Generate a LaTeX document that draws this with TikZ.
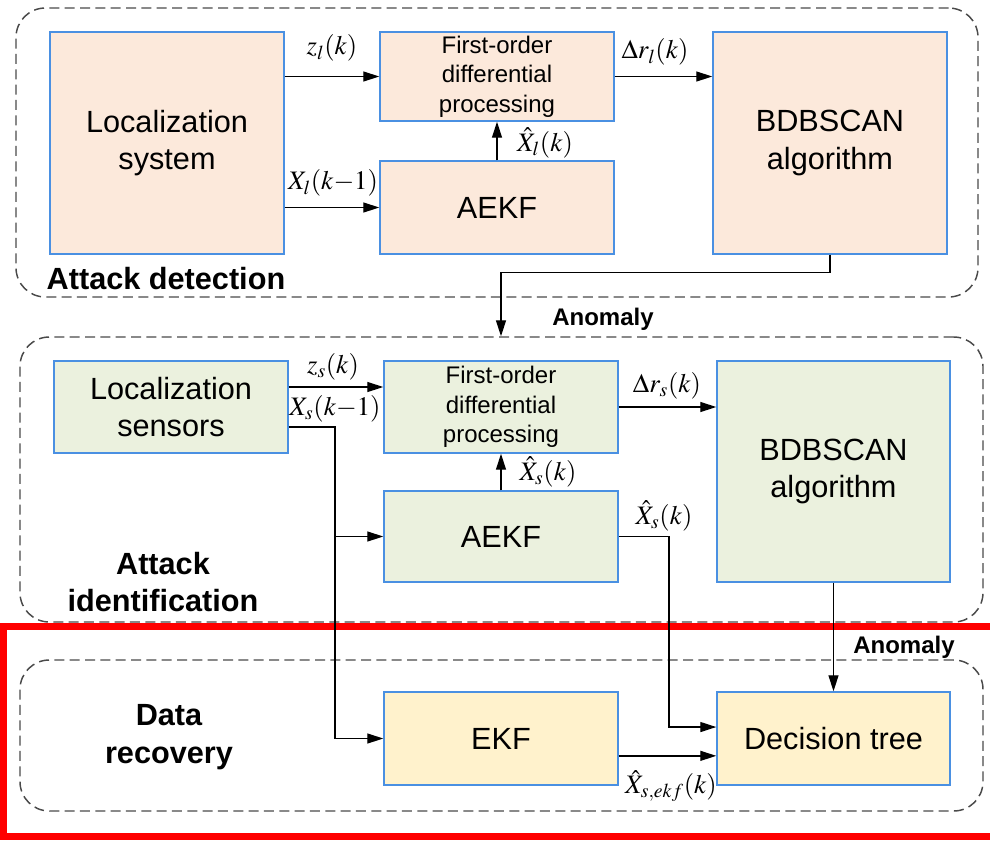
\documentclass[tikz,border=0pt]{standalone}
\usepackage{mathptmx}
\usepackage{fontspec}
\setmainfont{Liberation Sans}
\usetikzlibrary{arrows.meta,calc}
\definecolor{peach}{HTML}{FCE9DB}
\definecolor{leaf}{HTML}{EBF1DE}
\definecolor{cream}{HTML}{FFF2CC}
\definecolor{boxblue}{HTML}{4A90E2}
\definecolor{grpgray}{HTML}{4A4A4A}
\definecolor{alarm}{HTML}{FF0000}
\begin{document}
\begin{tikzpicture}[x=0.75pt,y=-0.75pt,
  box/.style={draw=boxblue, line width=1.1pt, inner sep=0pt, align=center,
    font=\fontsize{23}{28}\selectfont},
  small/.style={font=\fontsize{18}{22}\selectfont},
  grp/.style={draw=grpgray, dash pattern=on 7.5pt off 4pt, line width=1.1pt,
    rounded corners=22pt, inner sep=0pt},
  arr/.style={line width=1pt, -{Triangle[length=12pt,width=7.5pt]}},
  mlab/.style={font=\fontsize{20}{24}\selectfont, inner sep=0pt},
  tag/.style={font=\bfseries\fontsize{23}{28}\selectfont, align=center, inner sep=0pt},
  anom/.style={font=\bfseries\fontsize{18}{22}\selectfont, inner sep=0pt}]
\useasboundingbox (0,0) rectangle (990,840);

% stage frames
\node[grp, minimum width=721.5pt, minimum height=216.75pt] (grp1) at (497,152.5) {};
\node[grp, minimum width=722.25pt, minimum height=213.75pt] (grp2) at (501.5,479.5) {};
\node[grp, minimum width=722.25pt, minimum height=113.25pt] (grp3) at (501.5,735.5) {};

% highlight of the recovery stage
\draw[alarm, line width=5.25pt] (3.5,626.5) rectangle (1000,836.5);

% attack detection
\node[box, fill=peach, minimum width=175.5pt, minimum height=166.5pt] (locsys) at (167,143) {Localization\\system};
\node[box, small, fill=peach, minimum width=175.5pt, minimum height=66.75pt] (fod1) at (497,76.5) {First-order\\differential\\processing};
\node[box, fill=peach, minimum width=175.5pt, minimum height=69.75pt] (aekf1) at (497,207.5) {AEKF};
\node[box, fill=peach, minimum width=175.5pt, minimum height=166.5pt] (bdb1) at (830,143) {BDBSCAN\\algorithm};

% attack identification
\node[box, fill=leaf, minimum width=175.5pt, minimum height=69pt] (locsen) at (171,407) {Localization\\sensors};
\node[box, small, fill=leaf, minimum width=175.5pt, minimum height=69pt] (fod2) at (501,407) {First-order\\differential\\processing};
\node[box, fill=leaf, minimum width=175.5pt, minimum height=68.25pt] (aekf2) at (501,536.5) {AEKF};
\node[box, fill=leaf, minimum width=174.75pt, minimum height=165.75pt] (bdb2) at (833.5,471.5) {BDBSCAN\\algorithm};

% data recovery
\node[box, fill=cream, minimum width=175.5pt, minimum height=69.75pt] (ekf) at (501,738.5) {EKF};
\node[box, fill=cream, minimum width=174.75pt, minimum height=69.75pt] (dtree) at (833.5,738.5) {Decision tree};

% stage titles
\node[tag] (tdet) at (166,279) {Attack detection};
\node[tag] (tid) at (163,582) {Attack\\identification};
\node[tag] (trec) at (169,737) {Data\\recovery};
\node[anom] (anom1) at (603,319) {Anomaly};
\node[anom] (anom2) at (904,647) {Anomaly};

% detection flow
\draw[arr] (locsys.east |- fod1.west) -- (fod1.west);
\draw[arr] (locsys.east |- aekf1.west) -- (aekf1.west);
\draw[arr] (aekf1.north) -- (fod1.south);
\draw[arr] (fod1.east) -- (bdb1.west |- fod1.east);
\draw[arr] (bdb1.south) -- ++(0,18) -| (fod2.north |- grp2.north);

% identification flow
\coordinate (xs) at (335,0);
\coordinate (xh) at (669,0);
\coordinate (zin) at ([yshift=15pt]fod2.west);
\coordinate (xsout) at ([yshift=-15pt]locsen.east);
\coordinate (dtin) at ([yshift=8.6pt]dtree.west);
\coordinate (ekfout) at ([yshift=-13pt]ekf.east);
\draw[arr] (zin -| locsen.east) -- (zin);
\draw[arr] (xsout) -| (xs |- ekf.west) -- (ekf.west);
\draw[arr] (xs |- aekf2.west) -- (aekf2.west);
\draw[arr] (aekf2.north) -- (fod2.south);
\draw[arr] (fod2.east) -- (bdb2.west |- fod2.east);
\draw[arr] (aekf2.east) -| (xh |- dtin) -- (dtin);
\draw[arr] (bdb2.south) -- (dtree.north);

% recovery flow
\draw[arr] (ekfout) -- (ekfout -| dtree.west);

% signal labels
\node[mlab] (lzl) at (332,48) {$z_l(k)$};
\node[mlab] (lxl) at (333,183) {$X_l(k{-}1)$};
\node[mlab] (lxhl) at (545,143) {$\hat{X}_l(k)$};
\node[mlab] (ldrl) at (655,52) {$\Delta r_l(k)$};
\node[mlab] (lzs) at (333,367) {$z_s(k)$};
\node[mlab] (lxs) at (335,409) {$X_s(k{-}1)$};
\node[mlab] (ldrs) at (667,386) {$\Delta r_s(k)$};
\node[mlab] (lxhs1) at (548,472) {$\hat{X}_s(k)$};
\node[mlab] (lxhs2) at (664,516) {$\hat{X}_s(k)$};
\node[mlab] (lxekf) at (671,786) {$\hat{X}_{s,ekf}(k)$};
\end{tikzpicture}
\end{document}
